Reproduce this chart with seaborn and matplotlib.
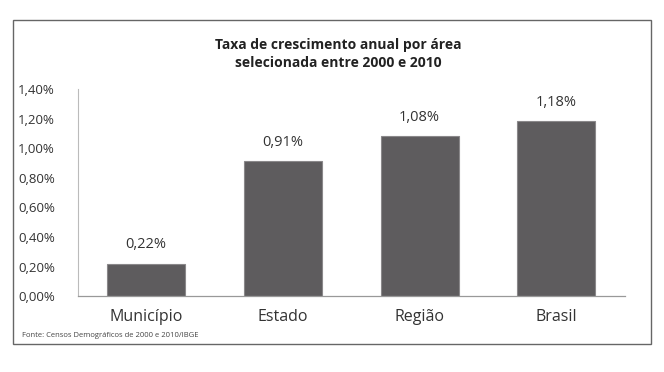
import matplotlib
matplotlib.use("Agg")
import matplotlib.pyplot as plt
import seaborn as sns
import pandas as pd
from matplotlib.patches import Rectangle

categories = ["Município", "Estado", "Região", "Brasil"]
values = [0.22, 0.91, 1.08, 1.18]
labels = ["0,22%", "0,91%", "1,08%", "1,18%"]
yticks = [0.0, 0.2, 0.4, 0.6, 0.8, 1.0, 1.2, 1.4]
ytick_labels = ["0,00%", "0,20%", "0,40%", "0,60%", "0,80%", "1,00%", "1,20%", "1,40%"]
title = "Taxa de crescimento anual por área\nselecionada entre 2000 e 2010"
source = "Fonte: Censos Demográficos de 2000 e 2010/IBGE"

sns.set_style("white")
plt.rcParams['font.family'] = ['Open Sans', 'DejaVu Sans']

df = pd.DataFrame({"area": categories, "taxa": values})

fig = plt.figure(figsize=(6.64, 3.72), dpi=100)
ax = fig.add_axes([0.117, 0.204, 0.824, 0.557])
sns.barplot(data=df, x="area", y="taxa", color="#5e5c5e", width=0.57,
            saturation=1, ax=ax, edgecolor="#8a888a", linewidth=0.8)

ax.set_ylim(0, 1.4)
ax.set_xlim(-0.5, 3.5)
ax.set_yticks(yticks)
ax.set_yticklabels(ytick_labels, fontsize=9.5, color="#333333")
ax.tick_params(axis="x", labelsize=11.5, colors="#333333", pad=9, length=0)
ax.tick_params(axis="y", length=0, pad=43)
ax.set_xlabel("")
ax.set_ylabel("")
for lab in ax.get_yticklabels():
    lab.set_horizontalalignment("left")

for s in ["top", "right"]:
    ax.spines[s].set_visible(False)
ax.spines["left"].set_color("#bbbbbb")
ax.spines["left"].set_linewidth(0.8)
ax.spines["bottom"].set_color("#999999")
ax.spines["bottom"].set_linewidth(0.9)

for p, lab in zip(ax.patches, labels):
    ax.text(p.get_x() + p.get_width() / 2, p.get_height() + 0.075, lab,
            ha="center", va="bottom", fontsize=10.5, color="#333333")

fig.text(0.509, 0.855, title, ha="center", va="center", fontsize=10,
         fontweight="bold", color="#222222", linespacing=1.4)
fig.text(0.033, 0.097, source, ha="left", va="center", fontsize=5.5,
         color="#444444")

fig.patches.append(Rectangle((0.019, 0.075), 0.962, 0.870, transform=fig.transFigure,
                             fill=False, edgecolor="#666666", linewidth=1.0))

fig.savefig("out.png", dpi=100, facecolor="white")
